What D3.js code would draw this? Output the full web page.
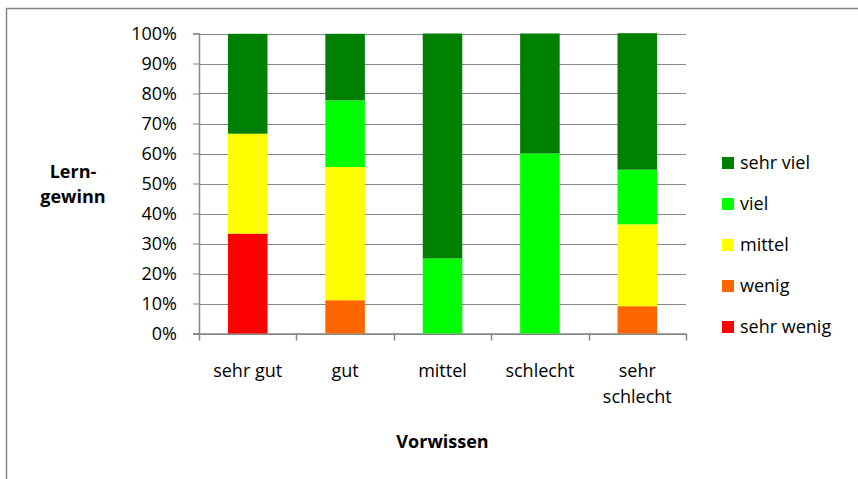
<!DOCTYPE html>
<html>
<head>
<meta charset="utf-8">
<script src="https://cdn.jsdelivr.net/npm/d3@7"></script>
<style>
  body { margin:0; background:#ffffff; }
  text { font-family:"Open Sans", sans-serif; fill:#000000; }
  .tick-label { font-size:18px; }
  .title { font-size:18px; font-weight:bold; }
  .legend text { font-size:18px; }
</style>
</head>
<body>
<svg id="chart"></svg>
<script>
//categories on the x axis (Vorwissen)
var categories = ["sehr gut","gut","mittel","schlecht","sehr schlecht"]
//x tick labels, broken into lines the way they wrap in the picture
var xTickLines = [["sehr gut"],["gut"],["mittel"],["schlecht"],["sehr","schlecht"]]

//series values in percent, one per category
var sehrWenig = [33.3, 0, 0, 0, 0]
var wenig     = [0, 11.1, 0, 0, 9.1]
var mittel    = [33.3, 44.4, 0, 0, 27.3]
var viel      = [0, 22.2, 25, 60, 18.2]
var sehrViel  = [33.3, 22.2, 75, 40, 45.5]

var seriesNames = ["sehr wenig","wenig","mittel","viel","sehr viel"]
var seriesColors = ["#ff0000","#ff6600","#ffff00","#00ff00","#008000"]
var yTicks = [0,10,20,30,40,50,60,70,80,90,100]

//builds one row per category for d3.stack
var buildRows = function()
{
    var columns = [sehrWenig,wenig,mittel,viel,sehrViel]
    return categories.map(function(cat,i)
    {
        var row = {category:cat}
        seriesNames.forEach(function(name,j)
        {
            row[name] = columns[j][i]
        })
        return row
    })
}

var drawAxes = function(svg,xScale,yScale,plot)
{
    var grid = "#868686"

    //horizontal gridlines
    svg.append("g")
       .selectAll("line")
       .data(yTicks)
       .enter()
       .append("line")
       .attr("x1",plot.left)
       .attr("x2",plot.right)
       .attr("y1",function(d){return Math.round(yScale(d))+0.5})
       .attr("y2",function(d){return Math.round(yScale(d))+0.5})
       .attr("stroke",grid)
       .attr("stroke-width",1)

    //y axis
    var yAxis = d3.axisLeft(yScale)
        .tickValues(yTicks)
        .tickSize(6)
        .tickPadding(16)
        .tickFormat(function(d){return d+"%"})
    var yg = svg.append("g")
       .attr("transform","translate("+plot.left+",0)")
       .call(yAxis)
    yg.select(".domain").attr("stroke",grid).attr("stroke-width",1.5)
    yg.selectAll(".tick line").attr("stroke",grid)
    yg.selectAll(".tick text")
      .attr("class","tick-label")
      .attr("font-size",null)
      .attr("font-family",null)
      .attr("fill","#000")

    //x axis: ticks on the category boundaries
    var step = xScale.step()
    var boundaries = d3.range(categories.length+1).map(function(i){return plot.left+i*step})
    svg.append("line")
       .attr("x1",plot.left-6)
       .attr("x2",plot.right)
       .attr("y1",plot.bottom+0.5)
       .attr("y2",plot.bottom+0.5)
       .attr("stroke",grid)
       .attr("stroke-width",1.5)
    svg.append("g")
       .selectAll("line")
       .data(boundaries)
       .enter()
       .append("line")
       .attr("x1",function(d){return Math.round(d)+0.5})
       .attr("x2",function(d){return Math.round(d)+0.5})
       .attr("y1",plot.bottom)
       .attr("y2",plot.bottom+7)
       .attr("stroke",grid)
       .attr("stroke-width",1.5)

    //x tick labels
    var labels = svg.append("g")
       .selectAll("text")
       .data(categories)
       .enter()
       .append("text")
       .attr("class","tick-label")
       .attr("text-anchor","middle")
       .attr("x",function(d){return xScale(d)+xScale.bandwidth()/2})
       .attr("y",plot.bottom+43)
    labels.each(function(d,i)
    {
        var t = d3.select(this)
        xTickLines[i].forEach(function(line,k)
        {
            t.append("tspan")
             .attr("x",xScale(d)+xScale.bandwidth()/2)
             .attr("dy",k==0 ? 0 : 26)
             .text(line)
        })
    })
}

var drawLabels = function(svg,plot)
{
    //y title, two lines
    var yt = svg.append("text")
       .attr("class","title")
       .attr("text-anchor","middle")
       .attr("x",73)
       .attr("y",178)
    yt.append("tspan").attr("x",73).attr("dy",0).text("Lern-")
    yt.append("tspan").attr("x",73).attr("dy",25).text("gewinn")

    //x title
    svg.append("text")
       .attr("class","title")
       .attr("text-anchor","middle")
       .attr("x",(plot.left+plot.right)/2)
       .attr("y",448)
       .text("Vorwissen")
}

var drawLegend = function(svg)
{
    var legend = svg.append("g")
       .classed("legend",true)
       .attr("transform","translate(722,163)")

    //legend lists the top series first
    var order = seriesNames.slice().reverse()
    var entries = legend.selectAll("g")
       .data(order)
       .enter()
       .append("g")
       .attr("transform",function(d,i){return "translate(0,"+(i*41)+")"})

    entries.append("rect")
       .attr("x",0)
       .attr("y",-6)
       .attr("width",12)
       .attr("height",12)
       .attr("fill",function(d){return seriesColors[seriesNames.indexOf(d)]})

    entries.append("text")
       .attr("x",18)
       .attr("y",6)
       .text(function(d){return d})
}

var initGraph = function()
{
    var screen = {width:858,height:479}
    var plot = {left:199,right:686,top:33.5,bottom:333.5}

    var svg = d3.select("#chart")
       .attr("width",screen.width)
       .attr("height",screen.height)

    //chart area border (cut off at right and bottom)
    svg.append("path")
       .attr("d","M6.5,"+(screen.height+5)+"V8.5H"+(screen.width+5))
       .attr("fill","none")
       .attr("stroke","#868686")
       .attr("stroke-width",1.5)

    var xScale = d3.scaleBand()
       .domain(categories)
       .range([plot.left,plot.right])
       .paddingInner(0.594)
       .paddingOuter(0.297)

    var yScale = d3.scaleLinear()
       .domain([0,100])
       .range([plot.bottom,plot.top])

    drawAxes(svg,xScale,yScale,plot)

    var stack = d3.stack().keys(seriesNames)
    var layers = stack(buildRows())

    svg.append("g")
       .selectAll("g")
       .data(layers)
       .enter()
       .append("g")
       .attr("fill",function(layer,i){return seriesColors[i]})
       .selectAll("rect")
       .data(function(layer){return layer})
       .enter()
       .append("rect")
       .attr("x",function(d){return xScale(d.data.category)})
       .attr("width",xScale.bandwidth())
       .attr("y",function(d){return yScale(d[1])})
       .attr("height",function(d){return yScale(d[0])-yScale(d[1])})

    drawLabels(svg,plot)
    drawLegend(svg)
}

initGraph()
</script>
</body>
</html>
